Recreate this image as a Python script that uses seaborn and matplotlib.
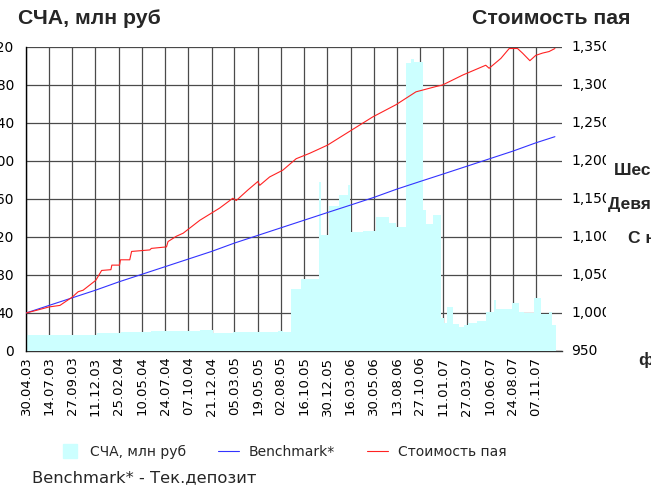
import matplotlib
matplotlib.use("Agg")
import numpy as np
import pandas as pd
import matplotlib.pyplot as plt
import matplotlib.dates as mdates
from matplotlib.lines import Line2D
from matplotlib.transforms import Bbox, TransformedBbox
import seaborn as sns

# ---------------- data ----------------
tick_labels = ["30.04.03", "14.07.03", "27.09.03", "11.12.03", "25.02.04", "10.05.04",
               "24.07.04", "07.10.04", "21.12.04", "05.03.05", "19.05.05", "02.08.05",
               "16.10.05", "30.12.05", "16.03.06", "30.05.06", "13.08.06", "27.10.06",
               "11.01.07", "27.03.07", "10.06.07", "24.08.07", "07.11.07"]

# СЧА, млн руб (columns, start date of each run of equal columns)
nav_start = ["2003-04-30", "2003-12-15", "2004-03-04", "2004-06-09", "2004-11-13", "2004-12-26",
             "2005-02-28", "2005-07-24", "2005-08-09", "2005-09-05", "2005-10-07", "2005-12-03",
             "2005-12-10", "2006-01-05", "2006-02-08", "2006-03-07", "2006-03-13", "2006-03-18",
             "2006-04-25", "2006-06-07", "2006-07-20", "2006-08-10", "2006-09-12", "2006-09-27",
             "2006-10-08", "2006-11-07", "2006-11-16", "2006-12-07", "2007-01-03", "2007-01-14",
             "2007-01-24", "2007-02-10", "2007-03-03", "2007-03-19", "2007-03-30", "2007-05-01",
             "2007-05-28", "2007-06-24", "2007-06-30", "2007-08-22", "2007-09-13", "2007-09-29",
             "2007-11-01", "2007-11-22", "2007-12-19", "2007-12-28"]
nav_end = "2008-01-10"
nav_values = [16.5, 18.6, 20, 21, 21.8, 19.3,
              20, 21, 20.3, 65.3, 75.8, 178,
              122, 152.6, 164, 174.7, 155, 125.6,
              126.6, 141, 135, 131, 303, 307,
              304.5, 148, 134, 143, 34.4, 29,
              46.6, 28.4, 25.6, 27.4, 29.8, 31.9,
              41.4, 53.7, 43.9, 50.9, 41.4, 39.6,
              55.4, 38.9, 41.4, 27.4]

# Стоимость пая
price_dates = ["2003-04-30", "2003-05-29", "2003-07-14", "2003-08-18", "2003-09-27", "2003-10-16",
               "2003-11-01", "2003-12-12", "2003-12-31", "2004-01-30", "2004-02-02", "2004-02-27",
               "2004-03-01", "2004-03-31", "2004-04-06", "2004-06-04", "2004-06-09", "2004-07-28",
               "2004-08-02", "2004-08-29", "2004-09-20", "2004-11-13", "2004-12-15", "2005-01-16",
               "2005-02-28", "2005-03-11", "2005-04-18", "2005-05-20", "2005-05-26", "2005-06-27",
               "2005-08-09", "2005-09-21", "2005-11-03", "2005-11-30", "2006-01-01", "2006-03-13",
               "2006-05-27", "2006-08-10", "2006-10-14", "2006-12-18", "2007-01-08", "2007-03-14",
               "2007-05-28", "2007-06-08", "2007-07-16", "2007-08-12", "2007-09-08", "2007-09-24",
               "2007-10-18", "2007-11-06", "2007-11-28", "2007-12-19", "2008-01-07"]
price_values = [1000, 1003, 1008, 1010, 1021, 1028,
                1030, 1043, 1056, 1057, 1063, 1063,
                1070, 1070, 1081, 1083, 1085, 1087,
                1094, 1101, 1105, 1122, 1130, 1138,
                1151, 1148, 1162, 1173, 1168, 1179,
                1188, 1203, 1210, 1215, 1221, 1239,
                1258, 1274, 1291, 1298, 1300, 1313,
                1326, 1322, 1335, 1348, 1348, 1342,
                1332, 1339, 1342, 1344, 1348]

# Benchmark*
bench_dates = ["2003-04-30", "2003-07-14", "2003-09-27", "2003-12-11", "2004-02-25", "2004-05-10",
               "2004-07-24", "2004-10-07", "2004-12-21", "2005-03-05", "2005-05-19", "2005-08-02",
               "2005-10-16", "2005-12-30", "2006-03-16", "2006-05-30", "2006-08-13", "2006-10-27",
               "2007-01-11", "2007-03-27", "2007-06-10", "2007-08-24", "2007-11-07", "2008-01-07"]
bench_values = [1000, 1010, 1020, 1030, 1041, 1051, 1061, 1071, 1081, 1092, 1102, 1112,
                1122, 1132, 1142, 1152, 1163, 1173, 1183, 1193, 1203, 1213, 1224, 1232]

left_ticks = [0, 40, 80, 120, 160, 200, 240, 280, 320]
right_ticks = [950, 1000, 1050, 1100, 1150, 1200, 1250, 1300, 1350]

# ---------------- style ----------------
sns.set_theme(style="white")
plt.rcParams['font.family'] = ['DejaVu Sans']

W, H = 651, 493
fig = plt.figure(figsize=(W / 100, H / 100), dpi=100)
fig.patch.set_facecolor("white")
ax = fig.add_axes([26 / W, 1 - 351 / H, 536 / W, 304 / H])
ax.set_facecolor("white")

CYAN = "#CCFFFF"
GRID = "#4a4a4a"
BLUE = "#3333FF"
RED = "#FF2222"

# bars
starts = mdates.date2num(pd.to_datetime(nav_start))
ends = np.append(starts[1:], mdates.date2num(pd.to_datetime(nav_end)))
ax.bar(starts, nav_values, width=ends - starts, align="edge", color=CYAN,
       linewidth=0, zorder=2)

ax.set_ylim(0, 320)
x0 = mdates.date2num(pd.Timestamp("2003-04-30"))
x1 = mdates.date2num(pd.Timestamp("2008-01-30"))
ax.set_xlim(x0, x1)

tick_pos = mdates.date2num(pd.to_datetime(tick_labels, format="%d.%m.%y"))
ax.set_xticks(tick_pos)
ax.set_xticklabels(tick_labels, rotation=90, fontsize=9.5, color="black")
ax.tick_params(axis="x", length=0, pad=4)
ax.set_yticks(left_ticks)
ax.set_yticklabels([str(v) for v in left_ticks], fontsize=10, color="black")
ax.tick_params(axis="y", length=0, pad=8.6)
ax.grid(True, color=GRID, linewidth=0.9)
ax.set_axisbelow(True)
for s in ["top", "right"]:
    ax.spines[s].set_visible(False)
ax.spines["left"].set_color("black")
ax.spines["left"].set_linewidth(1.0)
ax.spines["bottom"].set_color("#333333")
ax.spines["bottom"].set_linewidth(1.0)
ax.spines["bottom"].set_zorder(0.5)

# lines on the secondary axis
ax2 = ax.twinx()
px = mdates.date2num(pd.to_datetime(price_dates))
bx = mdates.date2num(pd.to_datetime(bench_dates))
sns.lineplot(x=bx, y=bench_values, ax=ax2, color=BLUE, linewidth=0.8)
sns.lineplot(x=px, y=price_values, ax=ax2, color=RED, linewidth=0.8)
ax2.set_ylim(950, 1350)
ax2.set_xlim(x0, x1)
ax2.set_yticks(right_ticks)
ax2.set_yticklabels([])
ax2.tick_params(axis="y", length=0)
ax2.grid(False)
for s in ax2.spines.values():
    s.set_visible(False)
ax2.set_xlabel("")
ax2.set_ylabel("")

clip = TransformedBbox(Bbox([[0, 0], [606 / W, 1]]), fig.transFigure)
for v in right_ticks:
    t = ax2.text(1 + 9 / 536, v, f"{v:,}", transform=ax2.get_yaxis_transform(),
                 ha="left", va="center", fontsize=10, color="black", clip_on=True)
    t.set_clip_path(None)
    t.set_clip_box(clip)
    t.set_clip_on(True)

# titles
TFAM = ["Liberation Sans", "DejaVu Sans"]
fig.text(18 / W, 1 - 18.5 / H, "СЧА, млн руб", fontsize=15.3, fontweight="bold",
         family=TFAM, va="center", ha="left")
fig.text(472 / W, 1 - 18.5 / H, "Стоимость пая", fontsize=15.3, fontweight="bold",
         family=TFAM, va="center", ha="left")

# cut-off side texts
side = [(614, 170, "Шесть месяцев"), (608, 205, "Девять месяцев"),
        (628, 238, "С начала года"), (638, 360, "ф")]
for xx, yy, s in side:
    fig.text(xx / W, 1 - yy / H, s, fontsize=12.5, fontweight="bold",
             family=TFAM, va="center", ha="left")

# legend
handles = [Line2D([], [], marker="s", markersize=10, color=CYAN, linestyle="None"),
           Line2D([], [], color=BLUE, linewidth=0.8),
           Line2D([], [], color=RED, linewidth=0.8)]
labels = ["СЧА, млн руб", "Benchmark*", "Стоимость пая"]
fig.legend(handles, labels, loc="center", bbox_to_anchor=(283 / W, 1 - 452 / H),
           ncol=3, frameon=False, fontsize=10, handlelength=1.5, handletextpad=0.7,
           columnspacing=2.3)

fig.text(32 / W, 1 - 478 / H, "Benchmark* - Тек.депозит", fontsize=11.8,
         va="center", ha="left")

fig.savefig("out.png", dpi=100)
